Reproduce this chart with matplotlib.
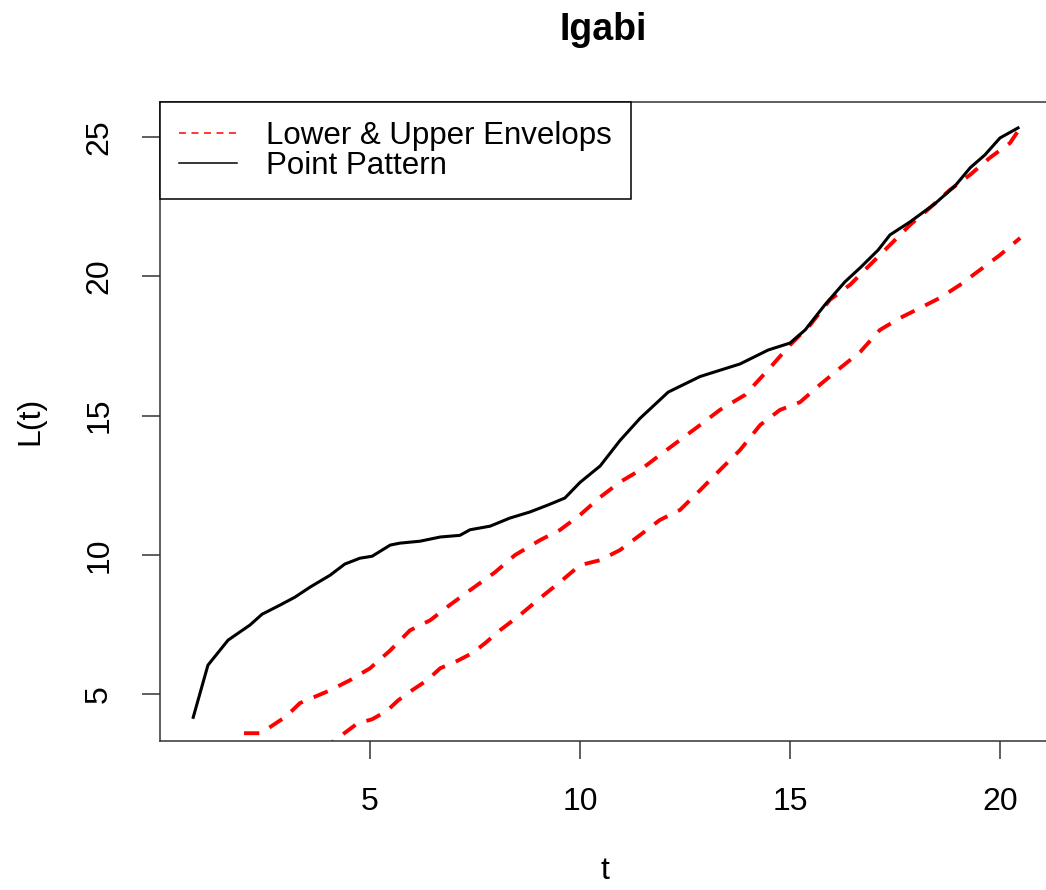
import matplotlib
matplotlib.use("Agg")
import matplotlib.pyplot as plt
from matplotlib.lines import Line2D

plt.rcParams['font.family'] = ['Liberation Sans', 'DejaVu Sans']
plt.rcParams['lines.scale_dashes'] = False

# L(t) para el patrón de puntos observado
t_obs = [0.79, 1.14, 1.62, 2.14, 2.43, 2.86, 3.21, 3.57, 4.05, 4.40, 4.76, 5.05,
         5.48, 5.71, 6.19, 6.67, 7.14, 7.38, 7.86, 8.33, 8.81, 9.24, 9.64, 10.0,
         10.48, 10.95, 11.43, 12.1, 12.86, 13.81, 14.48, 15.0, 15.36, 15.83,
         16.31, 16.67, 17.1, 17.38, 17.86, 18.45, 18.93, 19.29, 19.64, 20.0, 20.43]
L_obs = [4.17, 6.04, 6.94, 7.48, 7.87, 8.2, 8.48, 8.84, 9.27, 9.67, 9.88, 9.95,
         10.35, 10.42, 10.49, 10.64, 10.7, 10.9, 11.03, 11.32, 11.54, 11.79, 12.04, 12.6,
         13.19, 14.1, 14.9, 15.84, 16.4, 16.85, 17.35, 17.6, 18.07, 18.97,
         19.8, 20.3, 20.94, 21.48, 21.95, 22.6, 23.24, 23.89, 24.35, 24.96, 25.32]

# envolvente superior
t_sup = [2.0, 2.4, 2.7, 3.0, 3.33, 4.05, 4.52, 5.0, 5.48, 5.95, 6.43, 6.9, 7.38,
         7.98, 8.45, 9.05, 9.52, 10.0, 10.48, 10.95, 11.43, 11.9, 12.38, 12.86,
         13.33, 13.93, 14.48, 15.0, 15.48, 15.95, 16.43, 16.9, 17.38, 17.86,
         18.33, 18.81, 19.29, 19.76, 20.24, 20.48]
L_sup = [3.6, 3.6, 3.9, 4.2, 4.68, 5.14, 5.5, 5.93, 6.57, 7.29, 7.65, 8.2, 8.73,
         9.38, 9.99, 10.53, 10.89, 11.43, 12.07, 12.61, 13.04, 13.58, 14.12, 14.66,
         15.2, 15.74, 16.64, 17.53, 18.25, 19.15, 19.69, 20.4, 21.12, 21.84,
         22.45, 23.1, 23.64, 24.25, 24.78, 25.32]

# envolvente inferior
t_inf = [3.9, 4.12, 4.7, 5.05, 5.4, 5.67, 6.0, 6.36, 6.67, 7.02, 7.43, 7.74,
         8.1, 8.57, 9.05, 9.52, 10.0, 10.48, 10.95, 11.43, 11.9, 12.38, 12.86,
         13.33, 13.81, 14.29, 14.76, 15.24, 15.71, 16.19, 16.67, 17.14, 17.62,
         18.1, 18.57, 19.05, 19.52, 20.0, 20.48]
L_inf = [2.9, 3.3, 3.95, 4.1, 4.4, 4.78, 5.14, 5.5, 5.93, 6.15, 6.47, 6.83,
         7.3, 7.84, 8.45, 9.02, 9.63, 9.81, 10.17, 10.71, 11.25, 11.61, 12.32,
         13.04, 13.76, 14.66, 15.2, 15.48, 16.1, 16.7, 17.28, 18.07, 18.5,
         18.86, 19.22, 19.69, 20.22, 20.76, 21.37]

x_ticks = [5, 10, 15, 20]
y_ticks = [5, 10, 15, 20, 25]

fig = plt.figure(figsize=(10.46, 8.9), dpi=100)
ax = fig.add_axes([0.153, 0.1674, 0.852, 0.718])

guion = (0, (11, 8.5))
ax.plot(t_sup, L_sup, color="red", lw=2.8, linestyle=guion)
ax.plot(t_inf, L_inf, color="red", lw=2.8, linestyle=guion)
ax.plot(t_obs, L_obs, color="black", lw=2.2)

ax.set_xlim(0, 21.22)
ax.set_ylim(3.32, 26.25)
ax.set_xticks(x_ticks)
ax.set_yticks(y_ticks)
ax.tick_params(axis="both", length=13, width=1.1, labelsize=23, color="#333333")
ax.tick_params(axis="x", pad=20)
ax.tick_params(axis="y", pad=20)
for lab in ax.get_yticklabels():
    lab.set_rotation(90)
    lab.set_va("center")
for s in ax.spines.values():
    s.set_linewidth(1.1)
    s.set_color("#333333")

fig.text(0.577, 0.966, "Igabi", ha="center", va="center", fontsize=27, fontweight="bold")
fig.text(0.578, 0.021, "t", ha="center", va="center", fontsize=23)
fig.text(0.029, 0.527, "L(t)", ha="center", va="center", fontsize=23, rotation=90)

# leyenda
manejadores = [Line2D([], [], color="red", lw=1.1, linestyle=(0, (5, 4))),
               Line2D([], [], color="black", lw=1.1)]
leg = ax.legend(manejadores, ["Lower & Upper Envelops", "Point Pattern"],
                loc="upper left", bbox_to_anchor=(0, 1), borderaxespad=0,
                fontsize=22.5, fancybox=False, framealpha=1, edgecolor="black",
                handlelength=1.85, handletextpad=0.95, labelspacing=0.0,
                borderpad=0.6)
leg.get_frame().set_linewidth(1.1)

fig.savefig("out.png", dpi=100)
